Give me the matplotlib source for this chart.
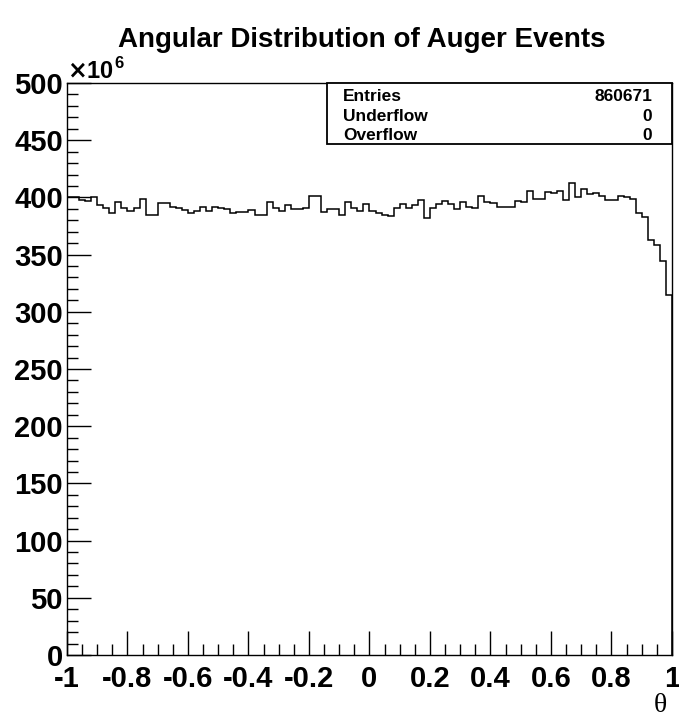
import numpy as np
import matplotlib
matplotlib.use('Agg')
import matplotlib.pyplot as plt
from matplotlib.patches import Rectangle

plt.rcParams['font.family'] = ['Liberation Sans', 'DejaVu Sans']
plt.rcParams['font.weight'] = 'bold'

# histogram contents, 100 bins over theta in [-1, 1], units of 10^6
counts = [400, 400, 398, 397, 400, 393, 391, 386, 396, 391,
          388, 391, 399, 385, 385, 395, 395, 392, 391, 389,
          386, 388, 392, 388, 392, 391, 390, 386, 387, 387,
          389, 385, 385, 396, 391, 388, 393, 390, 390, 391,
          401, 401, 387, 390, 390, 385, 396, 391, 388, 394,
          388, 386, 385, 384, 391, 394, 391, 393, 398, 382,
          391, 394, 397, 394, 390, 396, 392, 391, 401, 396,
          395, 392, 392, 392, 397, 396, 406, 399, 399, 405,
          404, 406, 398, 413, 400, 407, 403, 404, 401, 398,
          398, 401, 400, 399, 386, 383, 363, 358, 344, 315]
edges = np.linspace(-1, 1, len(counts) + 1)

xticks = [-1, -0.8, -0.6, -0.4, -0.2, 0, 0.2, 0.4, 0.6, 0.8, 1]
xticklabels = ['-1', '-0.8', '-0.6', '-0.4', '-0.2', '0', '0.2', '0.4', '0.6', '0.8', '1']
yticks = [0, 50, 100, 150, 200, 250, 300, 350, 400, 450, 500]

stats_names = ['Entries', 'Underflow', 'Overflow']
stats_values = ['860671', '0', '0']

fig = plt.figure(figsize=(6.79, 7.23), dpi=100)
ax = fig.add_axes([67/679, 68/723, 605/679, 572/723])

ax.stairs(counts, edges, color='black', linewidth=1.1)

ax.set_xlim(-1, 1)
ax.set_ylim(0, 500)

# ROOT-like inward ticks
ax.set_xticks(xticks)
ax.set_xticklabels(xticklabels)
ax.set_xticks(np.arange(-1, 1.001, 0.05), minor=True)
ax.set_yticks(yticks)
ax.set_yticks(np.arange(0, 501, 10), minor=True)
ax.tick_params(axis='both', which='major', direction='in', length=17, width=1,
               labelsize=21, top=False, right=False)
ax.tick_params(axis='both', which='minor', direction='in', length=8, width=1,
               top=False, right=False)
ax.tick_params(axis='x', which='major', pad=7)
ax.tick_params(axis='y', which='major', pad=3)
for lab in ax.get_xticklabels() + ax.get_yticklabels():
    lab.set_fontweight('bold')
for sp in ax.spines.values():
    sp.set_linewidth(1)

# exponent label above the y axis
ax.text(0.0, 1.0, r'$\times$10', transform=ax.transAxes,
        fontsize=17, fontweight='bold', ha='left', va='bottom')
ax.text(47/605, 1.0 + 12/572, '6', transform=ax.transAxes,
        fontsize=12, fontweight='bold', ha='left', va='bottom')

fig.text(362/679, 1 - 40/723, 'Angular Distribution of Auger Events',
         fontsize=20, fontweight='bold', ha='center', va='center')

fig.text(660/679, 1 - 705/723, 'θ', family='Liberation Serif',
         fontsize=20, fontweight='normal', ha='center', va='center')

# statistics box
bx0 = (327 - 67) / 605
by0 = (655 - 144) / 572
ax.add_patch(Rectangle((bx0, by0), 1 - bx0, 1 - by0, transform=ax.transAxes,
                       facecolor='white', edgecolor='black', linewidth=1.3,
                       zorder=5, clip_on=False))
rows_y = [101, 121, 140]
for name, val, yy in zip(stats_names, stats_values, rows_y):
    fy = (655 - yy) / 572
    ax.text((343 - 67) / 605, fy, name, transform=ax.transAxes, fontsize=12.5,
            fontweight='bold', ha='left', va='baseline', zorder=6)
    ax.text((652 - 67) / 605, fy, val, transform=ax.transAxes, fontsize=12.5,
            fontweight='bold', ha='right', va='baseline', zorder=6)

plt.savefig('out.png', dpi=100)
